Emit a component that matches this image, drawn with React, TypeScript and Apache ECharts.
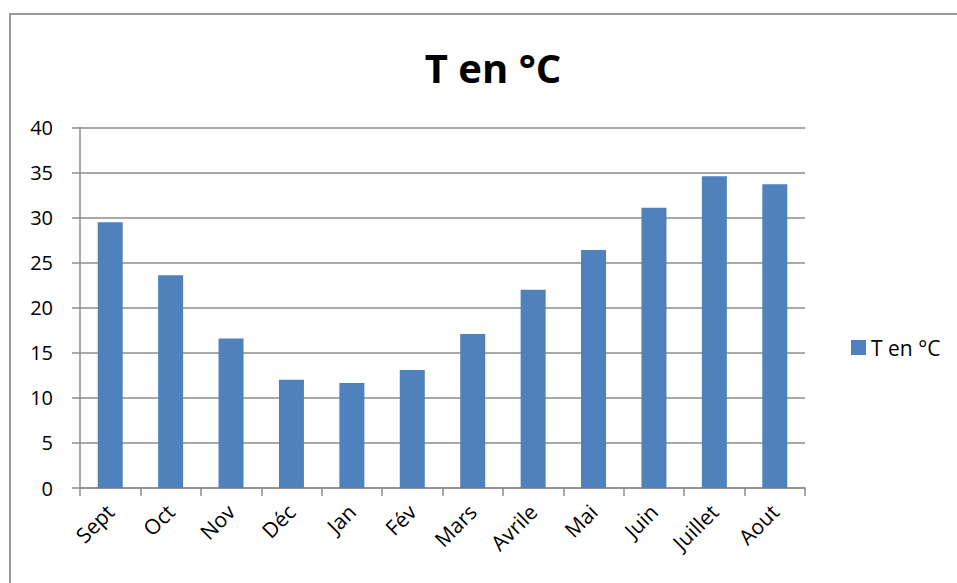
import React, { useEffect, useRef } from "react";
import * as echarts from "echarts";

const categories = ["Sept", "Oct", "Nov", "Déc", "Jan", "Fév", "Mars", "Avrile", "Mai", "Juin", "Juillet", "Aout"];
const temperatures = [29.5, 23.6, 16.6, 12.0, 11.65, 13.1, 17.1, 22.0, 26.4, 31.1, 34.6, 33.7];
const seriesName = "T en °C";
const titleText = "T en °C";

export default function App() {
  const ref = useRef<HTMLDivElement>(null);
  useEffect(() => {
    if (!ref.current) return;
    const chart = echarts.init(ref.current, null, { renderer: "svg" });
    const font = "'Open Sans', 'Noto Sans', sans-serif";
    const gray = "#8c8c8c";
    chart.setOption({
      animation: false,
      backgroundColor: "#ffffff",
      textStyle: { fontFamily: font },
      title: {
        text: titleText,
        left: 488,
        textAlign: "center",
        top: 42,
        textStyle: { fontFamily: font, fontWeight: "bold", fontSize: 40, color: "#000" },
      },
      legend: {
        data: [seriesName],
        left: 846,
        top: 332,
        icon: "rect",
        itemWidth: 15,
        itemHeight: 15,
        itemGap: 6,
        textStyle: { fontFamily: font, fontSize: 21, color: "#000" },
      },
      grid: { left: 80, right: 152, top: 127.5, bottom: 95, containLabel: false },
      xAxis: {
        type: "category",
        data: categories,
        boundaryGap: true,
        axisLine: { show: true, lineStyle: { color: gray, width: 1.5 } },
        axisTick: { show: true, alignWithLabel: false, interval: 0, length: 8, lineStyle: { color: gray, width: 1.5 } },
        axisLabel: { interval: 0, rotate: 45, margin: 20, fontSize: 21, color: "#000", fontFamily: font },
      },
      yAxis: {
        type: "value",
        min: 0,
        max: 40,
        interval: 5,
        axisLine: { show: true, lineStyle: { color: gray, width: 1.5 } },
        axisTick: { show: true, length: 8, lineStyle: { color: gray, width: 1.5 } },
        splitLine: { show: true, lineStyle: { color: gray, width: 1.5 } },
        axisLabel: { margin: 27, fontSize: 20, color: "#000", fontFamily: font },
      },
      series: [
        {
          name: seriesName,
          type: "bar",
          data: temperatures,
          barWidth: 25,
          itemStyle: { color: "#4F81BD" },
        },
      ],
      graphic: [
        {
          type: "rect",
          shape: { x: 10, y: 14, width: 1000, height: 620 },
          style: { fill: "none", stroke: "#9a9a9a", lineWidth: 2 },
          silent: true,
        },
      ],
    });
    return () => chart.dispose();
  }, []);
  return <div ref={ref} style={{ position: "fixed", left: 0, top: 0, width: 957, height: 583 }} />;
}
